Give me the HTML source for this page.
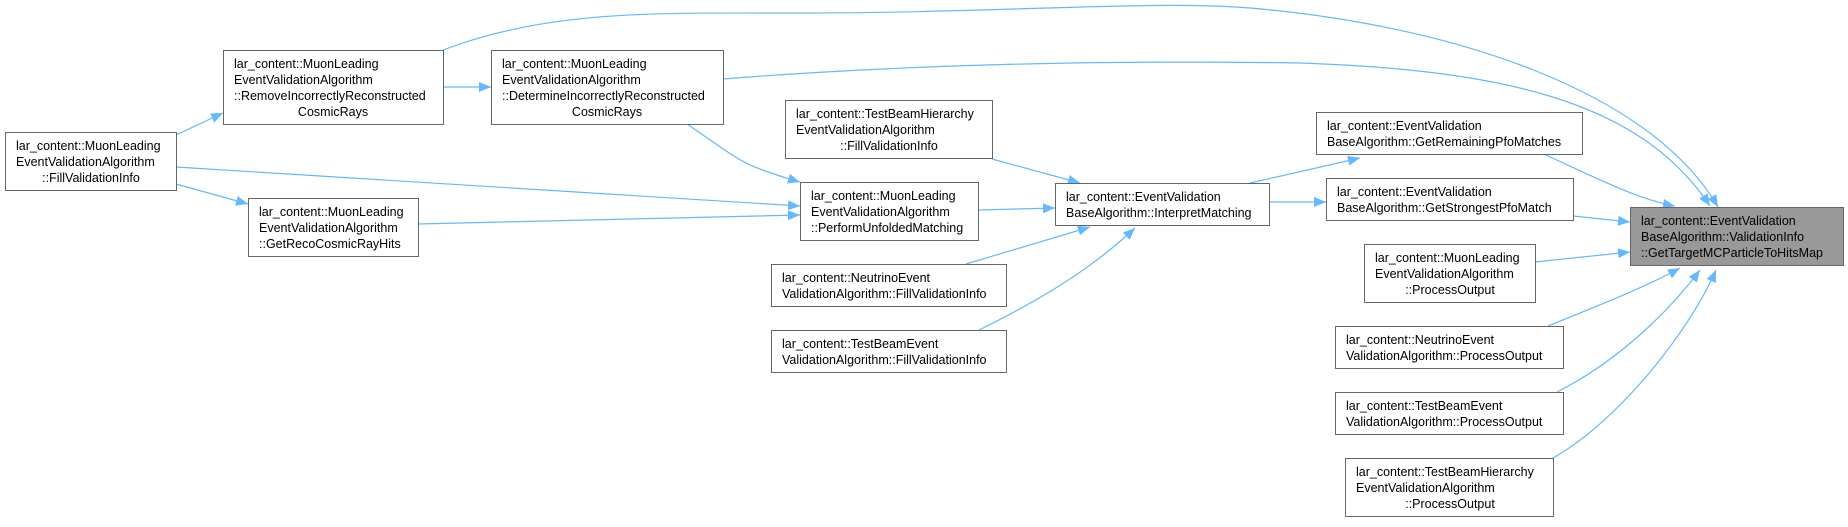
<!DOCTYPE html>
<html><head><meta charset="utf-8"><style>
html,body{margin:0;padding:0;background:#fff;}
svg{display:block;}
text{font-family:"Liberation Sans",Arial,sans-serif;font-size:12.5px;fill:#000;}
rect{fill:#fff;stroke:#666;stroke-width:1;}
path.e{fill:none;stroke:#63b8ff;stroke-width:1.2;}
</style></head><body>
<svg width="1848" height="527" viewBox="0 0 1848 527">
<defs><marker id="a" markerWidth="12" markerHeight="10" refX="12" refY="5" orient="auto" markerUnits="userSpaceOnUse"><path d="M0,0 L12,5 L0,10 z" fill="#63b8ff"/></marker></defs>

<path class="e" marker-end="url(#a)" d="M176,135 L223,113"/>
<path class="e" marker-end="url(#a)" d="M176,167 L800,206"/>
<path class="e" marker-end="url(#a)" d="M176,184 L248,204"/>
<path class="e" marker-end="url(#a)" d="M443,87 L491,87"/>
<path class="e" marker-end="url(#a)" d="M443,50 C550,10 650,13 800,13 C1000,13 1150,0 1250,8 C1450,25 1650,90 1718,207"/>
<path class="e" marker-end="url(#a)" d="M723,79 C900,65 1100,60 1300,63 C1500,70 1640,100 1710,206"/>
<path class="e" marker-end="url(#a)" d="M687,124 C740,160 740,165 800,182"/>
<path class="e" marker-end="url(#a)" d="M992,159 L1080,183"/>
<path class="e" marker-end="url(#a)" d="M978,210 L1055,208"/>
<path class="e" marker-end="url(#a)" d="M418,224 L800,215"/>
<path class="e" marker-end="url(#a)" d="M966,264 L1090,227"/>
<path class="e" marker-end="url(#a)" d="M979,330 C1040,300 1090,270 1135,228"/>
<path class="e" marker-end="url(#a)" d="M1250,183 L1360,158"/>
<path class="e" marker-end="url(#a)" d="M1269,202 L1326,202"/>
<path class="e" marker-end="url(#a)" d="M1546,155 C1600,180 1640,200 1675,206"/>
<path class="e" marker-end="url(#a)" d="M1573,216 L1630,222"/>
<path class="e" marker-end="url(#a)" d="M1535,262 L1630,252"/>
<path class="e" marker-end="url(#a)" d="M1548,326 C1600,305 1650,285 1680,268"/>
<path class="e" marker-end="url(#a)" d="M1557,392 C1620,360 1670,310 1700,270"/>
<path class="e" marker-end="url(#a)" d="M1553,458 C1620,420 1690,330 1716,270"/>

<rect x="5.5" y="132.5" width="171" height="58"/>
<text x="16" y="150">lar_content::MuonLeading</text>
<text x="16" y="166">EventValidationAlgorithm</text>
<text x="91" y="182" text-anchor="middle">::FillValidationInfo</text>

<rect x="223.5" y="50.5" width="220" height="74"/>
<text x="234" y="68">lar_content::MuonLeading</text>
<text x="234" y="84">EventValidationAlgorithm</text>
<text x="234" y="100">::RemoveIncorrectlyReconstructed</text>
<text x="333" y="116" text-anchor="middle">CosmicRays</text>

<rect x="491.5" y="50.5" width="232" height="74"/>
<text x="502" y="68">lar_content::MuonLeading</text>
<text x="502" y="84">EventValidationAlgorithm</text>
<text x="502" y="100">::DetermineIncorrectlyReconstructed</text>
<text x="607" y="116" text-anchor="middle">CosmicRays</text>

<rect x="785.5" y="100.5" width="207" height="58"/>
<text x="796" y="118">lar_content::TestBeamHierarchy</text>
<text x="796" y="134">EventValidationAlgorithm</text>
<text x="889" y="150" text-anchor="middle">::FillValidationInfo</text>

<rect x="800.5" y="182.5" width="178" height="58"/>
<text x="811" y="200">lar_content::MuonLeading</text>
<text x="811" y="216">EventValidationAlgorithm</text>
<text x="811" y="232">::PerformUnfoldedMatching</text>

<rect x="248.5" y="198.5" width="170" height="58"/>
<text x="259" y="216">lar_content::MuonLeading</text>
<text x="259" y="232">EventValidationAlgorithm</text>
<text x="259" y="248">::GetRecoCosmicRayHits</text>

<rect x="771.5" y="264.5" width="235" height="42"/>
<text x="782" y="282">lar_content::NeutrinoEvent</text>
<text x="782" y="298">ValidationAlgorithm::FillValidationInfo</text>

<rect x="771.5" y="330.5" width="235" height="42"/>
<text x="782" y="348">lar_content::TestBeamEvent</text>
<text x="782" y="364">ValidationAlgorithm::FillValidationInfo</text>

<rect x="1055.5" y="183.5" width="214" height="42"/>
<text x="1066" y="201">lar_content::EventValidation</text>
<text x="1066" y="217">BaseAlgorithm::InterpretMatching</text>

<rect x="1316.5" y="112.5" width="266" height="42"/>
<text x="1327" y="130">lar_content::EventValidation</text>
<text x="1327" y="146">BaseAlgorithm::GetRemainingPfoMatches</text>

<rect x="1326.5" y="178.5" width="247" height="42"/>
<text x="1337" y="196">lar_content::EventValidation</text>
<text x="1337" y="212">BaseAlgorithm::GetStrongestPfoMatch</text>

<rect x="1630.5" y="207.5" width="213" height="58" style="fill:#999;stroke:#666"/>
<text x="1641" y="225">lar_content::EventValidation</text>
<text x="1641" y="241">BaseAlgorithm::ValidationInfo</text>
<text x="1641" y="257">::GetTargetMCParticleToHitsMap</text>

<rect x="1364.5" y="244.5" width="171" height="58"/>
<text x="1375" y="262">lar_content::MuonLeading</text>
<text x="1375" y="278">EventValidationAlgorithm</text>
<text x="1450" y="294" text-anchor="middle">::ProcessOutput</text>

<rect x="1335.5" y="326.5" width="228" height="42"/>
<text x="1346" y="344">lar_content::NeutrinoEvent</text>
<text x="1346" y="360">ValidationAlgorithm::ProcessOutput</text>

<rect x="1335.5" y="392.5" width="228" height="42"/>
<text x="1346" y="410">lar_content::TestBeamEvent</text>
<text x="1346" y="426">ValidationAlgorithm::ProcessOutput</text>

<rect x="1345.5" y="458.5" width="208" height="58"/>
<text x="1356" y="476">lar_content::TestBeamHierarchy</text>
<text x="1356" y="492">EventValidationAlgorithm</text>
<text x="1450" y="508" text-anchor="middle">::ProcessOutput</text>
</svg>
</body></html>
